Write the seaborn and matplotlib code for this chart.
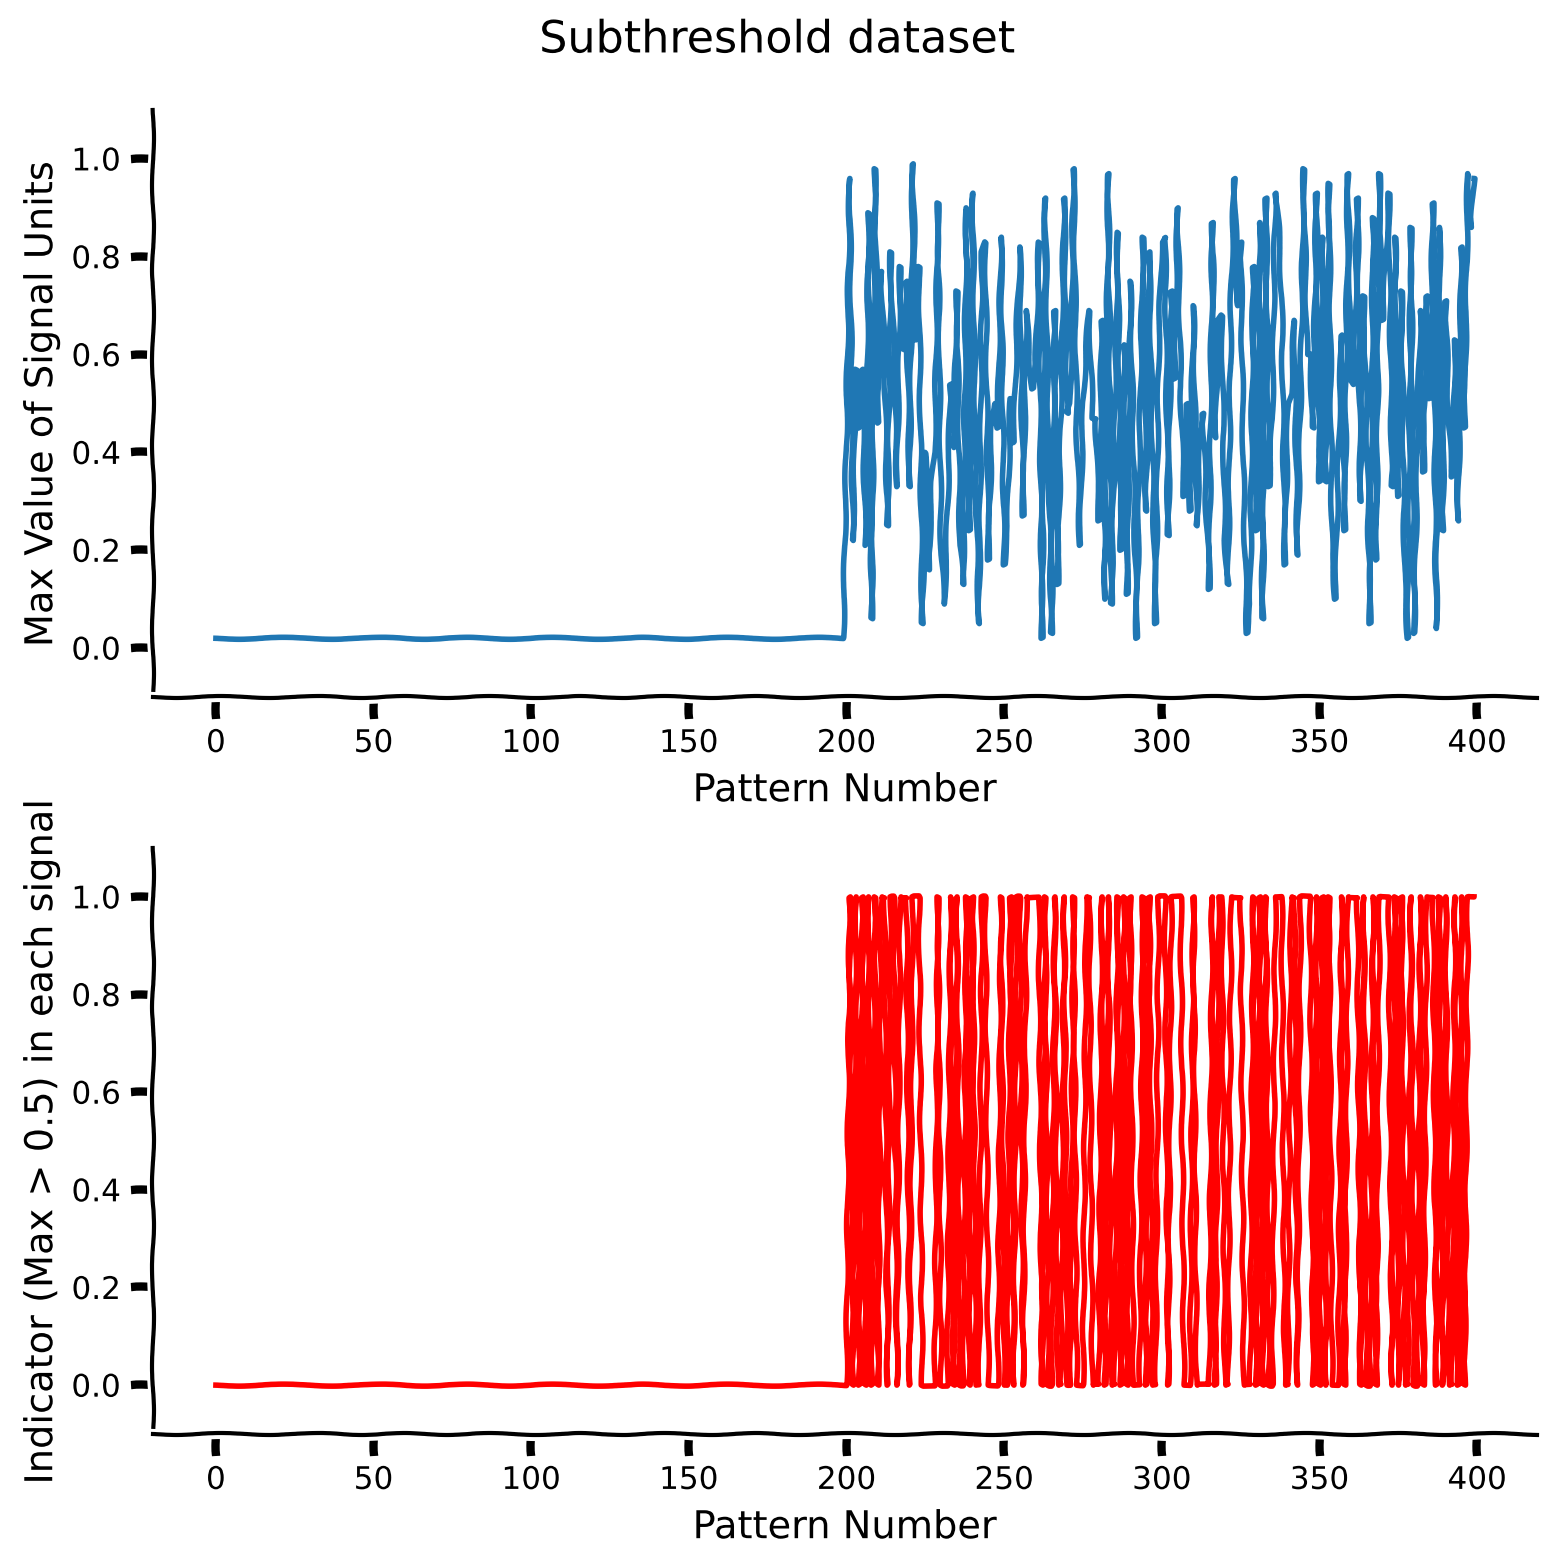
import numpy as np
import pandas as pd
import matplotlib
matplotlib.use('Agg')
import matplotlib.pyplot as plt
import seaborn as sns

# first 200 patterns: sub-threshold, max value stays around 0.02
sub_max = [0.02] * 200

# patterns 200..399: max value of the signal units
sig_max = [
    0.45, 0.96, 0.22, 0.57, 0.45, 0.57, 0.21, 0.89, 0.06, 0.98,
    0.46, 0.77, 0.60, 0.25, 0.81, 0.60, 0.33, 0.78, 0.61, 0.75,
    0.33, 0.99, 0.63, 0.78, 0.05, 0.40, 0.16, 0.34, 0.40, 0.91,
    0.19, 0.09, 0.28, 0.54, 0.41, 0.73, 0.21, 0.13, 0.90, 0.24,
    0.93, 0.32, 0.05, 0.81, 0.83, 0.18, 0.45, 0.50, 0.45, 0.84,
    0.17, 0.25, 0.51, 0.42, 0.65, 0.82, 0.27, 0.69, 0.58, 0.53,
    0.58, 0.83, 0.02, 0.92, 0.45, 0.03, 0.69, 0.13, 0.50, 0.92,
    0.48, 0.50, 0.98, 0.45, 0.21, 0.50, 0.62, 0.69, 0.47, 0.47,
    0.26, 0.67, 0.10, 0.97, 0.09, 0.45, 0.85, 0.20, 0.62, 0.11,
    0.75, 0.40, 0.02, 0.44, 0.84, 0.28, 0.81, 0.41, 0.05, 0.62,
    0.83, 0.84, 0.23, 0.73, 0.55, 0.90, 0.52, 0.31, 0.50, 0.28,
    0.70, 0.25, 0.40, 0.48, 0.30, 0.12, 0.87, 0.43, 0.67, 0.68,
    0.22, 0.13, 0.75, 0.96, 0.70, 0.83, 0.30, 0.03, 0.09, 0.78,
    0.24, 0.87, 0.06, 0.92, 0.33, 0.47, 0.93, 0.86, 0.72, 0.17,
    0.50, 0.52, 0.67, 0.19, 0.52, 0.98, 0.60, 0.60, 0.45, 0.93,
    0.34, 0.84, 0.34, 0.95, 0.19, 0.10, 0.40, 0.64, 0.24, 0.97,
    0.55, 0.54, 0.92, 0.30, 0.72, 0.45, 0.05, 0.88, 0.18, 0.97,
    0.67, 0.80, 0.93, 0.33, 0.84, 0.31, 0.73, 0.14, 0.02, 0.86,
    0.03, 0.40, 0.69, 0.36, 0.72, 0.51, 0.91, 0.04, 0.86, 0.24,
    0.71, 0.45, 0.35, 0.63, 0.26, 0.82, 0.45, 0.97, 0.86, 0.96,
]

max_vals = np.array(sub_max + sig_max)
df = pd.DataFrame({
    'pattern': np.arange(len(max_vals)),
    'max': max_vals,
    'indicator': (max_vals > 0.5).astype(float),
})

with plt.xkcd():
    plt.rcParams['font.family'] = 'DejaVu Sans'
    fig = plt.figure(figsize=(7.775, 7.835), dpi=200)
    ax1 = fig.add_axes([0.0984, 0.5552, 0.89, 0.3746])
    ax2 = fig.add_axes([0.0984, 0.0849, 0.89, 0.3739])

    sns.lineplot(data=df, x='pattern', y='max', ax=ax1, color='#1f77b4', lw=2)
    sns.lineplot(data=df, x='pattern', y='indicator', ax=ax2, color='red', lw=2)

    for ax, lab in [(ax1, 'Max Value of Signal Units'),
                    (ax2, 'Indicator (Max > 0.5) in each signal')]:
        ax.set_ylim(-0.1, 1.1)
        ax.set_xlim(-19.95, 418.95)
        ax.set_yticks([0, 0.2, 0.4, 0.6, 0.8, 1.0])
        ax.set_xticks(range(0, 401, 50))
        ax.set_xlabel('Pattern Number', fontsize=13.8, labelpad=5.5)
        ax.set_ylabel(lab, fontsize=13.8)
        ax.tick_params(labelsize=11.2)
        sns.despine(ax=ax)

    fig.suptitle('Subthreshold dataset', fontsize=16, y=0.9745, va='center')
    fig.savefig('out.png', dpi=200)
